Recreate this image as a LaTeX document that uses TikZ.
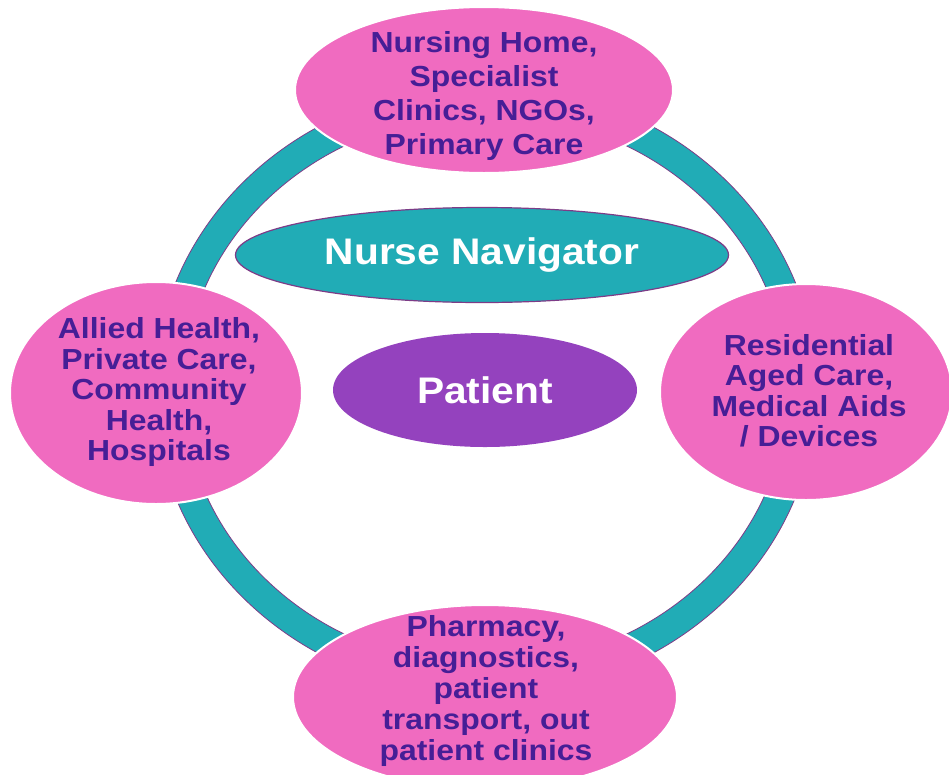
\documentclass[tikz,border=0pt]{standalone}
\usepackage{fontspec}
\newfontfamily\diagfont{Liberation Sans}[FakeStretch=1.1]
\usetikzlibrary{shapes.geometric}
\definecolor{ringteal}{RGB}{33,172,182}
\definecolor{petal}{RGB}{240,107,192}
\definecolor{txtpurple}{RGB}{70,30,150}
\definecolor{patientfill}{RGB}{148,66,190}
\definecolor{edgepurple}{RGB}{125,60,135}
\tikzset{
  petalshape/.style={ellipse, fill=petal, draw=white, line width=2pt, inner sep=0pt},
  petaltext/.style={align=center, text=txtpurple, inner sep=0pt,
    font=\diagfont\bfseries\fontsize{29}{30.5}\selectfont},
  hubshape/.style={ellipse, inner sep=0pt, text=white,
    font=\diagfont\bfseries\fontsize{37}{40}\selectfont},
}
\begin{document}
\begin{tikzpicture}[x=1pt,y=-1pt]
\useasboundingbox (0,0) rectangle (949,774);
\clip (0,0) rectangle (949,774);
\fill[white] (0,0) rectangle (949,774);
% ring
\coordinate (rc) at (485.5,390);
\fill[ringteal, even odd rule] (rc) ellipse [x radius=331pt, y radius=305pt]
  (rc) ellipse [x radius=302pt, y radius=276pt];
\draw[edgepurple, line width=0.8pt] (rc) ellipse [x radius=331pt, y radius=305pt];
\draw[edgepurple, line width=0.8pt] (rc) ellipse [x radius=302pt, y radius=276pt];
% petals
\node[petalshape, minimum width=378pt, minimum height=166pt] (top) at (484,90) {};
\node[petalshape, minimum width=292pt, minimum height=222pt] (left) at (156,393) {};
\node[petalshape, minimum width=292pt, minimum height=216pt] (right) at (806,392) {};
\node[petalshape, minimum width=384pt, minimum height=184pt] (bottom) at (485,697) {};
\node[petaltext, font=\diagfont\bfseries\fontsize{29}{33.8}\selectfont] (toptxt) at (484,96)
  {Nursing Home,\\Specialist\\Clinics, NGOs,\\Primary Care};
\node[petaltext] (lefttxt) at (159,392)
  {Allied Health,\\Private Care,\\Community\\Health,\\Hospitals};
\node[petaltext] (righttxt) at (809,391)
  {Residential\\Aged Care,\\Medical Aids\\/ Devices};
\node[petaltext, font=\diagfont\bfseries\fontsize{29}{31.2}\selectfont] (bottomtxt) at (486,691)
  {Pharmacy,\\diagnostics,\\patient\\transport, out\\patient clinics};
% hub
\node[hubshape, fill=ringteal, draw=edgepurple, line width=1.2pt,
  minimum width=493pt, minimum height=95pt] (nav) at (482,255) {Nurse Navigator};
\node[hubshape, fill=patientfill, minimum width=304pt, minimum height=114pt]
  (patient) at (485,390) {Patient};
\end{tikzpicture}
\end{document}
